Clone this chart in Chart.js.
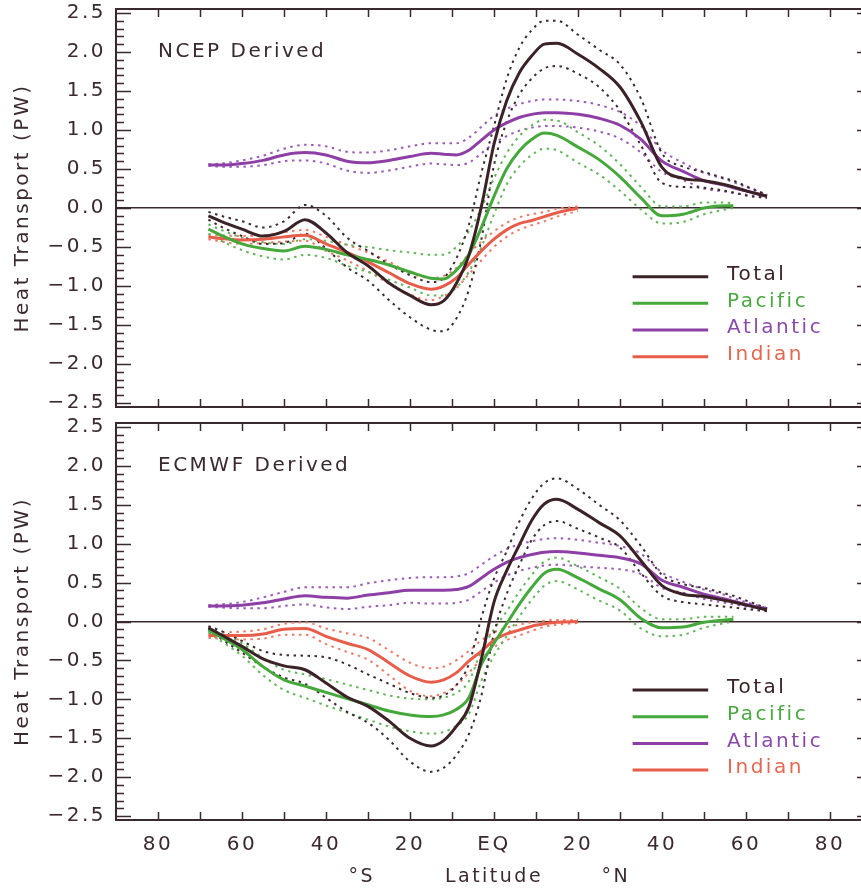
<!DOCTYPE html>
<html lang="en">
<head>
<meta charset="UTF-8">
<title>Ocean Heat Transport - NCEP / ECMWF</title>
<style>
  html, body { margin: 0; padding: 0; background: #fff; overflow: hidden; width: 861px; height: 890px; }
  .panel { position: absolute; left: 0; width: 880px; }
  #topPanel { top: 0; height: 416px; }
  #bottomPanel { top: 414px; height: 476px; }
</style>
</head>
<body>
<div class="panel" id="topPanel"><canvas id="ncepChart" width="880" height="416"></canvas></div>
<div class="panel" id="bottomPanel"><canvas id="ecmwfChart" width="880" height="476"></canvas></div>
<script src="https://cdn.jsdelivr.net/npm/chart.js"></script>
<script>
// latitude grid (negative = south)
const lat = [-68,-65,-60,-55,-50,-45,-40,-35,-30,-25,-20,-15,-12,-9,-6,-3,0,3,6,9,12,15,20,25,30,35,40,45,50,55,57,60,65];
const xTicks = [-80,-60,-40,-20,0,20,40,60,80];
const yTicks = [-2.5,-2,-1.5,-1,-0.5,0,0.5,1,1.5,2,2.5];

// NCEP derived (PW)
const ncepTotal     = [-0.10,-0.17,-0.27,-0.36,-0.30,-0.15,-0.32,-0.57,-0.74,-0.96,-1.12,-1.24,-1.19,-0.97,-0.61,0.02,0.82,1.37,1.73,1.95,2.10,2.11,1.97,1.79,1.55,1.10,0.52,0.38,0.35,0.30,0.27,0.22,0.15];
const ncepTotalUp   = [-0.05,-0.10,-0.17,-0.25,-0.17,0.04,-0.10,-0.38,-0.55,-0.72,-0.86,-0.95,-0.90,-0.65,-0.22,0.45,1.05,1.65,2.05,2.28,2.40,2.40,2.22,2.03,1.84,1.40,0.70,0.53,0.46,0.38,0.35,0.28,0.17];
const ncepTotalLo   = [-0.15,-0.24,-0.36,-0.46,-0.45,-0.33,-0.52,-0.76,-0.93,-1.18,-1.40,-1.56,-1.58,-1.42,-1.05,-0.40,0.55,1.10,1.45,1.66,1.79,1.82,1.72,1.55,1.25,0.80,0.32,0.27,0.26,0.22,0.20,0.16,0.13];
const ncepPacific   = [-0.27,-0.35,-0.46,-0.52,-0.55,-0.49,-0.53,-0.60,-0.66,-0.73,-0.82,-0.90,-0.91,-0.80,-0.60,-0.25,0.15,0.50,0.73,0.88,0.96,0.93,0.78,0.62,0.40,0.13,-0.10,-0.08,0.00,0.03,0.03,null,null];
const ncepPacificUp = [-0.21,-0.28,-0.38,-0.44,-0.46,-0.40,-0.42,-0.47,-0.50,-0.54,-0.57,-0.60,-0.60,-0.50,-0.30,0.00,0.38,0.70,0.92,1.06,1.13,1.12,0.97,0.80,0.56,0.27,0.02,0.02,0.07,0.07,0.06,null,null];
const ncepPacificLo = [-0.33,-0.42,-0.54,-0.62,-0.66,-0.60,-0.64,-0.74,-0.82,-0.92,-1.02,-1.12,-1.12,-1.02,-0.82,-0.50,-0.08,0.30,0.53,0.68,0.76,0.74,0.58,0.43,0.22,-0.02,-0.20,-0.18,-0.08,-0.02,0.00,null,null];
const ncepAtlantic   = [0.55,0.55,0.57,0.61,0.68,0.71,0.68,0.60,0.58,0.61,0.66,0.70,0.69,0.68,0.74,0.87,1.00,1.09,1.16,1.20,1.22,1.22,1.20,1.15,1.06,0.88,0.60,0.47,0.35,0.29,0.26,0.22,0.15];
const ncepAtlanticUp = [0.56,0.57,0.61,0.67,0.76,0.81,0.79,0.72,0.71,0.74,0.79,0.83,0.83,0.83,0.90,1.04,1.18,1.27,1.33,1.37,1.39,1.39,1.37,1.32,1.23,1.05,0.74,0.58,0.45,0.37,0.33,0.27,0.17];
const ncepAtlanticLo = [0.54,0.53,0.53,0.55,0.60,0.61,0.57,0.48,0.45,0.48,0.53,0.57,0.56,0.55,0.58,0.70,0.83,0.92,0.99,1.03,1.05,1.05,1.03,0.98,0.89,0.71,0.46,0.36,0.25,0.21,0.19,0.17,0.13];
const ncepIndian   = [-0.37,-0.39,-0.41,-0.40,-0.37,-0.35,-0.46,-0.57,-0.69,-0.83,-0.97,-1.04,-1.00,-0.90,-0.72,-0.55,-0.40,-0.28,-0.20,-0.16,-0.11,-0.06,0.00,null,null,null,null,null,null,null,null,null,null];
const ncepIndianUp = [-0.34,-0.35,-0.36,-0.35,-0.31,-0.28,-0.37,-0.47,-0.57,-0.69,-0.83,-0.90,-0.87,-0.77,-0.59,-0.43,-0.30,-0.19,-0.12,-0.08,-0.05,-0.01,0.02,null,null,null,null,null,null,null,null,null,null];
const ncepIndianLo = [-0.40,-0.43,-0.46,-0.45,-0.43,-0.42,-0.55,-0.67,-0.81,-0.97,-1.11,-1.18,-1.13,-1.03,-0.85,-0.67,-0.50,-0.37,-0.28,-0.22,-0.17,-0.11,-0.04,null,null,null,null,null,null,null,null,null,null];

// ECMWF derived (PW)
const ecTotal     = [-0.08,-0.17,-0.32,-0.48,-0.57,-0.62,-0.79,-0.97,-1.09,-1.28,-1.50,-1.60,-1.53,-1.35,-1.10,-0.48,0.25,0.65,0.98,1.30,1.51,1.57,1.44,1.27,1.10,0.78,0.46,0.35,0.32,0.27,0.25,0.21,0.15];
const ecTotalUp   = [-0.06,-0.12,-0.25,-0.38,-0.43,-0.44,-0.46,-0.55,-0.68,-0.80,-0.92,-0.98,-0.95,-0.82,-0.55,0.05,0.55,0.90,1.28,1.58,1.78,1.84,1.70,1.50,1.30,0.97,0.60,0.48,0.43,0.36,0.33,0.27,0.17];
const ecTotalLo   = [-0.10,-0.22,-0.40,-0.58,-0.72,-0.80,-0.98,-1.16,-1.30,-1.52,-1.80,-1.93,-1.88,-1.72,-1.45,-0.95,-0.15,0.35,0.72,1.05,1.24,1.29,1.19,1.08,0.95,0.62,0.33,0.25,0.22,0.19,0.18,0.16,0.13];
const ecPacific   = [-0.11,-0.20,-0.36,-0.58,-0.75,-0.83,-0.91,-0.99,-1.07,-1.15,-1.20,-1.22,-1.20,-1.13,-0.98,-0.55,-0.28,-0.03,0.22,0.44,0.62,0.67,0.56,0.42,0.28,0.04,-0.08,-0.07,-0.01,0.02,0.03,null,null];
const ecPacificUp = [-0.08,-0.15,-0.28,-0.47,-0.62,-0.68,-0.74,-0.81,-0.88,-0.95,-0.99,-1.00,-0.98,-0.92,-0.77,-0.38,-0.10,0.13,0.38,0.60,0.77,0.82,0.71,0.57,0.42,0.17,0.03,0.03,0.06,0.06,0.06,null,null];
const ecPacificLo = [-0.14,-0.25,-0.44,-0.69,-0.88,-0.98,-1.08,-1.17,-1.26,-1.35,-1.41,-1.44,-1.42,-1.34,-1.19,-0.76,-0.44,-0.19,0.06,0.28,0.46,0.52,0.41,0.27,0.14,-0.09,-0.19,-0.17,-0.08,-0.02,0.00,null,null];
const ecAtlantic   = [0.20,0.20,0.21,0.24,0.29,0.33,0.31,0.30,0.34,0.37,0.40,0.40,0.40,0.41,0.45,0.56,0.67,0.76,0.82,0.86,0.89,0.90,0.88,0.85,0.82,0.74,0.53,0.44,0.35,0.29,0.26,0.22,0.16];
const ecAtlanticUp = [0.21,0.22,0.25,0.31,0.38,0.44,0.44,0.44,0.49,0.53,0.56,0.57,0.57,0.58,0.62,0.73,0.84,0.93,0.99,1.03,1.06,1.07,1.05,1.01,0.97,0.87,0.63,0.51,0.41,0.34,0.30,0.25,0.17];
const ecAtlanticLo = [0.19,0.18,0.17,0.17,0.20,0.22,0.18,0.16,0.19,0.21,0.24,0.23,0.23,0.24,0.28,0.39,0.50,0.59,0.65,0.69,0.72,0.73,0.71,0.69,0.67,0.61,0.43,0.37,0.29,0.24,0.22,0.19,0.15];
const ecIndian   = [-0.18,-0.18,-0.18,-0.16,-0.10,-0.09,-0.19,-0.28,-0.36,-0.53,-0.70,-0.78,-0.75,-0.66,-0.51,-0.38,-0.24,-0.16,-0.11,-0.06,-0.03,-0.01,0.00,null,null,null,null,null,null,null,null,null,null];
const ecIndianUp = [-0.15,-0.14,-0.13,-0.10,-0.03,-0.01,-0.09,-0.15,-0.21,-0.37,-0.53,-0.60,-0.58,-0.50,-0.38,-0.24,-0.14,-0.08,-0.04,-0.01,0.01,0.02,0.02,null,null,null,null,null,null,null,null,null,null];
const ecIndianLo = [-0.21,-0.22,-0.23,-0.22,-0.17,-0.17,-0.29,-0.39,-0.49,-0.69,-0.89,-0.96,-0.92,-0.82,-0.66,-0.48,-0.33,-0.24,-0.18,-0.12,-0.07,-0.04,-0.02,null,null,null,null,null,null,null,null,null,null];

const names = ['Total', 'Pacific', 'Atlantic', 'Indian'];
const lineColors = ['#3a2226', '#45a83a', '#8e3fa6', '#e85c4a'];
const dotColors  = ['#3a2a2e', '#62b65a', '#9a5cb8', '#ee7a68'];
const textColors = ['#3a2226', '#4aa840', '#8a4aaa', '#e6674f'];

const ink = '#3b2a2d';
const family = '"DejaVu Sans", "Liberation Sans", sans-serif';

const pts = vals => lat.map((x, i) => ({ x: x, y: vals[i] }));

// frame, inward ticks, panel label, legend
const frame = {
    id: 'frame',
    beforeLayout(chart) { chart.ctx.letterSpacing = '2.5px'; },
    beforeDraw(chart) { chart.ctx.letterSpacing = '2.5px'; },
    afterDraw(chart, args, opts) {
        const { ctx, chartArea: a, scales: { x, y } } = chart;
        ctx.save();
        ctx.strokeStyle = ink;
        ctx.lineWidth = 2;
        ctx.strokeRect(a.left, a.top, a.right - a.left, a.bottom - a.top);
        ctx.lineWidth = 1.5;
        ctx.beginPath();
        for (let v = -25; v <= 25; v++) {
            const py = Math.round(y.getPixelForValue(v / 10)) + 0.5;
            const len = v % 5 === 0 ? 15 : 8;
            ctx.moveTo(a.left, py); ctx.lineTo(a.left + len, py);
            ctx.moveTo(a.right, py); ctx.lineTo(a.right - len, py);
        }
        for (let d = -80; d <= 80; d += 10) {
            const px = Math.round(x.getPixelForValue(d)) + 0.5;
            ctx.moveTo(px, a.top); ctx.lineTo(px, a.top + 8);
            ctx.moveTo(px, a.bottom); ctx.lineTo(px, a.bottom - 8);
        }
        ctx.stroke();

        ctx.font = '20px ' + family;
        ctx.textBaseline = 'middle';
        ctx.textAlign = 'left';
        ctx.fillStyle = ink;
        ctx.fillText(opts.label, x.getPixelForValue(-80), y.getPixelForValue(2.0));

        // legend
        const y0 = y.getPixelForValue(-0.88);
        names.forEach((n, i) => {
            const py = y0 + i * 26.7;
            ctx.strokeStyle = lineColors[i];
            ctx.lineWidth = 3;
            ctx.beginPath();
            ctx.moveTo(x.getPixelForValue(33), py);
            ctx.lineTo(x.getPixelForValue(51), py);
            ctx.stroke();
            ctx.fillStyle = textColors[i];
            ctx.fillText(n, x.getPixelForValue(55.5), py - 2);
        });

        if (opts.bottom) {
            const ty = x.bottom - 2 - 19 * 1.2 / 2;
            ctx.font = '19px ' + family;
            ctx.fillStyle = ink;
            ctx.textAlign = 'center';
            ctx.fillText('°S', x.getPixelForValue(-31.5), ty);
            ctx.fillText('°N', x.getPixelForValue(29), ty);
        }
        ctx.restore();
    }
};

function makeChart(id, rows, label, bottom) {
    const datasets = [];
    rows.forEach((r, k) => {
        datasets.push({ label: names[k], data: pts(r[0]), borderColor: lineColors[k], borderWidth: 3, order: k });
        datasets.push({ label: names[k] + ' upper', data: pts(r[1]), borderColor: dotColors[k], borderWidth: 2, borderDash: [2.5, 4.5], order: 10 + k });
        datasets.push({ label: names[k] + ' lower', data: pts(r[2]), borderColor: dotColors[k], borderWidth: 2, borderDash: [2.5, 4.5], order: 10 + k });
    });
    const font = { family: family, size: 20 };
    return new Chart(document.getElementById(id), {
        type: 'line',
        data: { datasets: datasets },
        options: {
            responsive: false,
            animation: false,
            devicePixelRatio: 1,
            layout: { padding: { top: 9, right: 8, bottom: bottom ? 0 : 9, left: 0 } },
            elements: {
                point: { radius: 0 },
                line: { cubicInterpolationMode: 'monotone', fill: false }
            },
            plugins: {
                legend: { display: false },
                tooltip: { enabled: false },
                frame: { label: label, bottom: bottom }
            },
            scales: {
                x: {
                    type: 'linear', min: -90, max: 90,
                    afterBuildTicks: s => { s.ticks = xTicks.map(v => ({ value: v })); },
                    afterFit: s => {
                        s.height = bottom ? 70 : 0;
                        s.paddingLeft = 0; s.paddingRight = 0;
                    },
                    grid: { display: false, drawTicks: false },
                    border: { display: false },
                    ticks: {
                        display: bottom, padding: 13, color: ink, font: font,
                        maxRotation: 0, autoSkip: false,
                        callback: v => v === 0 ? 'EQ' : String(Math.abs(v))
                    },
                    title: { display: bottom, text: 'Latitude', color: ink, font: { family: family, size: 19 }, padding: { top: 0, bottom: 2 } }
                },
                y: {
                    min: -2.55, max: 2.55,
                    afterBuildTicks: s => { s.ticks = yTicks.map(v => ({ value: v })); },
                    afterFit: s => {
                        s.width = 116;
                        s.paddingTop = 0; s.paddingBottom = 0;
                    },
                    grid: {
                        drawTicks: false,
                        lineWidth: 1.5,
                        color: c => (c.tick && c.tick.value === 0) ? ink : 'rgba(0,0,0,0)'
                    },
                    border: { display: false },
                    ticks: {
                        padding: 10, color: ink, font: font,
                        callback: v => v < 0 ? '\u2212' + Math.abs(v).toFixed(1) : v.toFixed(1)
                    },
                    title: { display: true, text: 'Heat Transport (PW)', color: ink, font: font, padding: { top: 11, bottom: 0 } }
                }
            }
        },
        plugins: [frame]
    });
}

makeChart('ncepChart', [
    [ncepTotal, ncepTotalUp, ncepTotalLo],
    [ncepPacific, ncepPacificUp, ncepPacificLo],
    [ncepAtlantic, ncepAtlanticUp, ncepAtlanticLo],
    [ncepIndian, ncepIndianUp, ncepIndianLo]
], 'NCEP Derived', false);

makeChart('ecmwfChart', [
    [ecTotal, ecTotalUp, ecTotalLo],
    [ecPacific, ecPacificUp, ecPacificLo],
    [ecAtlantic, ecAtlanticUp, ecAtlanticLo],
    [ecIndian, ecIndianUp, ecIndianLo]
], 'ECMWF Derived', true);
</script>
</body>
</html>
